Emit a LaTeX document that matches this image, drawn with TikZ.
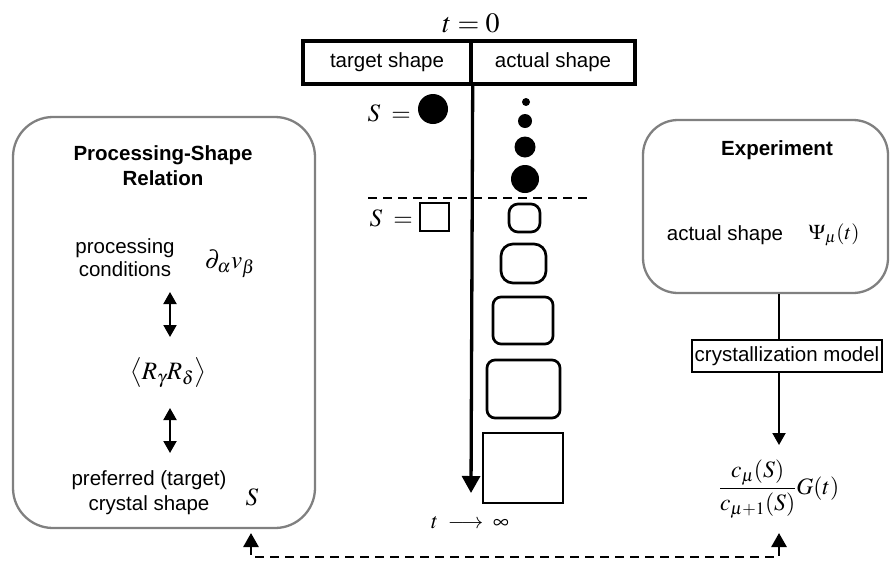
\documentclass[tikz,border=0pt]{standalone}
\usepackage{mathptmx}
\usepackage[no-math]{fontspec}
\setmainfont{Liberation Sans}
\usetikzlibrary{arrows.meta}
\definecolor{panelgray}{gray}{0.5}
\begin{document}
\begin{tikzpicture}[x=1pt,y=-1pt,
  txt/.style={font=\fontsize{20.5}{24}\selectfont, inner sep=0pt, align=center},
  ttl/.style={inner sep=0pt, align=center, font=\fontsize{20.5}{25}\selectfont\bfseries},
  mth/.style={inner sep=0pt, font=\fontsize{25}{28}\selectfont},
  hdrbox/.style={txt, draw, line width=3.4pt, minimum height=43pt},
  panel/.style={draw=panelgray, line width=2.3pt, rounded corners=40pt, inner sep=0pt},
  crystal/.style={draw, line width=2.7pt, inner sep=0pt},
  blob/.style={circle, fill, inner sep=0pt},
  dbl/.style={line width=2pt, {Triangle[width=13pt,length=12pt]}-{Triangle[width=13pt,length=12pt]}},
  conn/.style={line width=2pt},
  connarr/.style={line width=2pt, -{Triangle[width=13pt,length=12pt]}},
  mainarr/.style={line width=3.3pt, -{Triangle[width=18pt,length=17pt]}},
  dash line/.style={line width=2.7pt, dash pattern=on 9pt off 6pt},
]
\useasboundingbox (0,0) rectangle (890,560);

% ---- header ----
\node[mth, font=\fontsize{28}{30}\selectfont] (t0) at (471,23) {$t=0$};
\node[hdrbox, minimum width=168pt] (tgt) at (387,62.5) {target shape};
\node[hdrbox, minimum width=164pt] (act) at (553,62.5) {actual shape};

% ---- time arrow ----
\coordinate (tinf) at (471,493);
\draw[mainarr] (tgt.south east) -- (tinf);
\node[mth, font=\fontsize{22}{24}\selectfont] (tlim) at (470,523) {$t\;\longrightarrow\;\infty$};

% ---- circle target ----
\node[mth, font=\fontsize{25}{28}\selectfont, anchor=base east] (s1) at (411,121) {$S\;=$};
\node[blob, minimum size=30pt] (tc) at (433,109) {};
\node[blob, minimum size=8pt] (d1) at (526,102) {};
\node[blob, minimum size=14pt] (d2) at (525,121) {};
\node[blob, minimum size=21pt] (d3) at (525,147) {};
\node[blob, minimum size=28pt] (d4) at (525,179) {};

% ---- separator ----
\coordinate (dl) at (368,198);
\coordinate (dr) at (592,198);
\draw[dash line] (dl) -- (dr);

% ---- square target ----
\node[mth, font=\fontsize{25}{28}\selectfont, anchor=base east] (s2) at (413,226) {$S\;=$};
\node[draw, line width=2.2pt, inner sep=0pt, minimum width=29pt, minimum height=28pt] (tsq) at (434.5,217) {};
\node[crystal, rounded corners=9pt, minimum width=31pt, minimum height=28pt] (c1) at (524.5,218) {};
\node[crystal, rounded corners=12pt, minimum width=45pt, minimum height=39pt] (c2) at (523.5,263.5) {};
\node[crystal, rounded corners=8pt, minimum width=60pt, minimum height=47pt] (c3) at (523,320.5) {};
\node[crystal, rounded corners=8pt, minimum width=73pt, minimum height=58pt] (c4) at (523.5,389) {};
\node[crystal, minimum width=80pt, minimum height=70pt] (c5) at (523,468) {};

% ---- left panel ----
\node[panel, minimum width=302pt, minimum height=411pt] (proc) at (164,322.5) {};
\node[ttl] (ptitle) at (163,166) {Processing-Shape\\Relation};
\node[txt, font=\fontsize{20.5}{23}\selectfont] (pc) at (125,258) {processing\\conditions};
\node[mth] (dv) at (230,264) {$\partial_\alpha v_\beta$};
\coordinate (a1t) at (170,292);
\coordinate (a1b) at (170,337);
\draw[dbl] (a1t) -- (a1b);
\node[mth] (rr) at (168,373) {$\left\langle R_\gamma R_\delta\right\rangle$};
\coordinate (a2t) at (170,408);
\coordinate (a2b) at (170,453);
\draw[dbl] (a2t) -- (a2b);
\node[txt, font=\fontsize{20.5}{25}\selectfont] (pref) at (149,492.5) {preferred (target)\\crystal shape};
\node[mth] (sS) at (252,497) {$S$};

% ---- right panel ----
\node[panel, rounded corners=35pt, minimum width=245pt, minimum height=173pt] (exp) at (765.5,206.5) {};
\node[ttl] (ett) at (777,150) {Experiment};
\node[txt] (eas) at (725,235) {actual shape};
\node[mth, font=\fontsize{21}{24}\selectfont] (psi) at (834,235) {$\Psi_\mu(t)$};
\node[txt, draw, line width=2pt, minimum width=190pt, minimum height=32pt] (cm) at (787,356) {crystallization model};
\coordinate (cx) at (779,0);
\coordinate (aend) at (779,445);
\draw[conn] (exp.south -| cx) -- (cm.north -| cx);
\draw[connarr] (cm.south -| cx) -- (aend);
\node[mth, font=\fontsize{23.5}{26}\selectfont] (frac) at (779,489) {$\displaystyle\frac{c_\mu(S)}{c_{\mu+1}(S)}G(t)$};

% ---- feedback ----
\coordinate (tipL) at (251,533);
\coordinate (tipR) at (779,533);
\coordinate (fb) at (0,557);
\draw[dash line, {Triangle[width=15pt,length=14pt]}-{Triangle[width=15pt,length=14pt]}] (tipL) -- (tipL |- fb) -- (tipR |- fb) -- (tipR);
\end{tikzpicture}
\end{document}
